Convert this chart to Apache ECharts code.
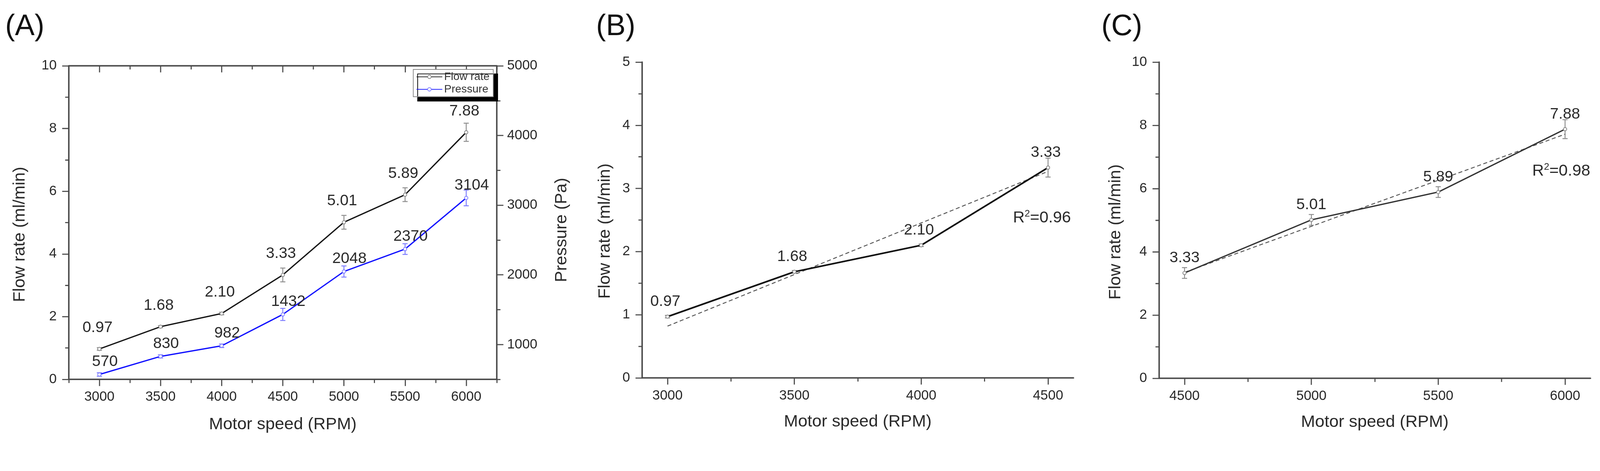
<!DOCTYPE html>
<html>
<head>
<meta charset="utf-8">
<script src="https://cdn.jsdelivr.net/npm/echarts@6/dist/echarts.min.js"></script>
<style>
html,body{margin:0;padding:0;background:#fff;overflow:hidden;}
#c{width:4348px;height:1207px;transform-origin:0 0;}
</style>
</head>
<body>
<div id="c"></div>
<script>
// ---------- data ----------
const rpmAll = [3000, 3500, 4000, 4500, 5000, 5500, 6000];
const flowRate = [0.97, 1.68, 2.10, 3.33, 5.01, 5.89, 7.88];
const flowErrA = [0.04, 0.03, 0.04, 0.22, 0.22, 0.22, 0.29];
const pressure = [570, 830, 982, 1432, 2048, 2370, 3104];
const pressureErr = [25, 22, 25, 87, 80, 77, 113];

const rpmB = [3000, 3500, 4000, 4500];
const flowB = [0.97, 1.68, 2.10, 3.33];
const flowErrB = [0.02, 0.02, 0.02, 0.15];
const fitRpmB = [3000, 4500];
const fitFlowB = [0.82, 3.27];

const rpmC = [4500, 5000, 5500, 6000];
const flowC = [3.33, 5.01, 5.89, 7.88];
const flowErrC = [0.17, 0.17, 0.17, 0.30];
const fitRpmC = [4500, 6000];
const fitFlowC = [3.35, 7.72];

// tick labels
const xTicksA = [3000, 3500, 4000, 4500, 5000, 5500, 6000];
const xMinorA = [2750, 3250, 3750, 4250, 4750, 5250, 5750, 6250];
const yTicksA = [0, 2, 4, 6, 8, 10];
const yMinorA = [1, 3, 5, 7, 9];
const pTicksA = [1000, 2000, 3000, 4000, 5000];
const pMinorA = [500, 1500, 2500, 3500, 4500];
const xTicksB = [3000, 3500, 4000, 4500];
const xMinorB = [3250, 3750, 4250];
const yTicksB = [0, 1, 2, 3, 4, 5];
const yMinorB = [0.5, 1.5, 2.5, 3.5, 4.5];
const xTicksC = [4500, 5000, 5500, 6000];
const xMinorC = [4750, 5250, 5750];
const yTicksC = [0, 2, 4, 6, 8, 10];
const yMinorC = [1, 3, 5, 7, 9];

// ---------- styling helpers ----------
const FONT = '"Liberation Sans", Arial, sans-serif';
const AXC = '#4a4a4a';
const TXT = '#2a2a2a';
const plain = v => String(v);

function xAxisDef(gi, min, max, ticks, o) {
  o = o || {};
  return {
    type: 'value', gridIndex: gi, min: min, max: max,
    position: o.position || 'bottom',
    axisLine: { show: o.line !== false, onZero: false, lineStyle: { color: AXC, width: 4 } },
    axisTick: { show: true, customValues: ticks, inside: !!o.inside, length: o.len || 18, lineStyle: { color: AXC, width: 3 } },
    axisLabel: { show: !!o.label, customValues: ticks, formatter: plain, margin: 30, fontSize: 37, color: TXT, fontFamily: FONT },
    splitLine: { show: false },
    name: o.name || '', nameLocation: 'middle', nameGap: o.nameGap || 98,
    nameTextStyle: { fontSize: 46, color: TXT, fontFamily: FONT }
  };
}
function yAxisDef(gi, min, max, ticks, o) {
  o = o || {};
  return {
    type: 'value', gridIndex: gi, min: min, max: max,
    position: o.position || 'left',
    axisLine: { show: o.line !== false, onZero: false, lineStyle: { color: AXC, width: 4 } },
    axisTick: { show: true, customValues: ticks, inside: false, length: o.len || 18, lineStyle: { color: AXC, width: 3 } },
    axisLabel: { show: !!o.label, customValues: ticks, formatter: plain, margin: o.margin || 33, fontSize: 37, color: TXT, fontFamily: FONT },
    splitLine: { show: false },
    name: o.name || '', nameLocation: 'middle', nameGap: o.nameGap || 100, nameRotate: 90,
    nameTextStyle: { fontSize: 46, color: TXT, fontFamily: FONT, padding: [0, o.namePad || 0, 0, 0] }
  };
}

function pairs(xs, ys) { return xs.map((x, i) => [x, ys[i]]); }

function lineSeries(name, xi, yi, xs, ys, color, width, lbl) {
  return {
    type: 'line', name: name, xAxisIndex: xi, yAxisIndex: yi,
    data: pairs(xs, ys), z: 3,
    symbol: 'circle', symbolSize: 9, showAllSymbol: true,
    itemStyle: { color: '#fff', borderColor: lbl.markerColor || '#808080', borderWidth: 2 },
    lineStyle: { color: color, width: width },
    emphasis: { disabled: true }, animation: false,
    label: {
      show: true, position: 'top', distance: lbl.distance, offset: lbl.offset || [0, 0],
      fontSize: 42, color: TXT, fontFamily: FONT,
      formatter: p => lbl.fmt(p.value[1])
    }
  };
}

function errSeries(xi, yi, xs, ys, es, color) {
  return {
    type: 'custom', xAxisIndex: xi, yAxisIndex: yi, silent: true, z: 2, animation: false,
    encode: { x: 0, y: [1, 2] },
    data: xs.map((x, i) => [x, ys[i] - es[i], ys[i] + es[i]]),
    renderItem: function (params, api) {
      const x = api.value(0);
      const p1 = api.coord([x, api.value(1)]);
      const p2 = api.coord([x, api.value(2)]);
      const w = 7, st = { stroke: color, lineWidth: 2.5 };
      return {
        type: 'group', children: [
          { type: 'line', shape: { x1: p1[0], y1: p1[1], x2: p2[0], y2: p2[1] }, style: st },
          { type: 'line', shape: { x1: p1[0] - w, y1: p1[1], x2: p1[0] + w, y2: p1[1] }, style: st },
          { type: 'line', shape: { x1: p2[0] - w, y1: p2[1], x2: p2[0] + w, y2: p2[1] }, style: st }
        ]
      };
    }
  };
}

function fitSeries(xi, yi, xs, ys, r2Coord, r2Text) {
  return {
    type: 'line', xAxisIndex: xi, yAxisIndex: yi, data: pairs(xs, ys), z: 2,
    symbol: 'none', lineStyle: { color: '#555', width: 2.5, type: [11, 7] },
    emphasis: { disabled: true }, animation: false, silent: true,
    markPoint: {
      symbol: 'circle', symbolSize: 0, silent: true,
      label: {
        show: true, position: 'inside', color: TXT, fontFamily: FONT,
        formatter: '{a|R}{s|2}{a|=' + r2Text + '}',
        rich: {
          a: { fontSize: 44, color: TXT, fontFamily: FONT },
          s: { fontSize: 26, color: TXT, fontFamily: FONT, padding: [0, 0, 22, 0] }
        }
      },
      data: [{ coord: r2Coord, value: 0 }]
    }
  };
}

const fmt2 = v => v.toFixed(2);
const fmt0 = v => String(Math.round(v));
const LETTER_FONT = '80px "Liberation Sans", Arial, sans-serif';

const option = {
  backgroundColor: '#fff',
  animation: false,
  grid: [
    { left: 187, top: 179, width: 1163, height: 853 },
    { left: 1745, top: 169, width: 1172, height: 859 },
    { left: 3150, top: 169, width: 1172, height: 860 }
  ],
  xAxis: [
    xAxisDef(0, 2750, 6250, xTicksA, { label: true, name: 'Motor speed (RPM)', nameGap: 100 }),
    xAxisDef(0, 2750, 6250, xMinorA, { line: false, len: 10 }),
    xAxisDef(0, 2750, 6250, xTicksA, { position: 'top', inside: true }),
    xAxisDef(0, 2750, 6250, xMinorA, { position: 'top', inside: true, line: false, len: 10 }),
    xAxisDef(1, 2900, 4600, xTicksB, { label: true, name: 'Motor speed (RPM)', nameGap: 97 }),
    xAxisDef(1, 2900, 4600, xMinorB, { line: false, len: 10 }),
    xAxisDef(2, 4400, 6100, xTicksC, { label: true, name: 'Motor speed (RPM)', nameGap: 97 }),
    xAxisDef(2, 4400, 6100, xMinorC, { line: false, len: 10 })
  ],
  yAxis: [
    yAxisDef(0, 0, 10, yTicksA, { label: true, name: 'Flow rate (ml/min)', nameGap: 110, namePad: 64 }),
    yAxisDef(0, 0, 10, yMinorA, { line: false, len: 10 }),
    yAxisDef(0, 500, 5000, pTicksA, { position: 'right', label: true, margin: 28, name: 'Pressure (Pa)', nameGap: 153, namePad: 40 }),
    yAxisDef(0, 500, 5000, pMinorA, { position: 'right', line: false, len: 10 }),
    yAxisDef(1, 0, 5, yTicksB, { label: true, name: 'Flow rate (ml/min)', nameGap: 78, namePad: 60 }),
    yAxisDef(1, 0, 5, yMinorB, { line: false, len: 10 }),
    yAxisDef(2, 0, 10, yTicksC, { label: true, name: 'Flow rate (ml/min)', nameGap: 95, namePad: 64 }),
    yAxisDef(2, 0, 10, yMinorC, { line: false, len: 10 })
  ],
  legend: {
    data: ['Flow rate', 'Pressure'],
    orient: 'vertical', left: 1123, top: 189,
    itemWidth: 70, itemHeight: 12, itemGap: 4,
    padding: [5, 10, 5, 8], selectedMode: false,
    backgroundColor: '#fff', borderColor: '#8a8a8a', borderWidth: 2, borderRadius: 0,
    shadowColor: '#000', shadowBlur: 0, shadowOffsetX: 12, shadowOffsetY: 12,
    textStyle: { fontSize: 30, color: '#333', fontFamily: FONT }
  },
  graphic: [
    { type: 'text', left: 14, top: 34, style: { text: '(A)', fill: '#111', font: LETTER_FONT } },
    { type: 'text', left: 1620, top: 34, style: { text: '(B)', fill: '#111', font: LETTER_FONT } },
    { type: 'text', left: 2993, top: 34, style: { text: '(C)', fill: '#111', font: LETTER_FONT } }
  ],
  series: [
    // Panel A
    errSeries(0, 0, rpmAll, flowRate, flowErrA, '#8c8c8c'),
    errSeries(0, 2, rpmAll, pressure, pressureErr, '#7a7aff'),
    lineSeries('Flow rate', 0, 0, rpmAll, flowRate, '#151515', 3.5, { distance: 31, offset: [-5, 0], fmt: fmt2 }),
    lineSeries('Pressure', 0, 2, rpmAll, pressure, '#1010ff', 3.5, { distance: 8, offset: [15, 0], fmt: fmt0, markerColor: '#7a7aff' }),
    // Panel B
    fitSeries(4, 4, fitRpmB, fitFlowB, [4476, 2.53], '0.96'),
    errSeries(4, 4, rpmB, flowB, flowErrB, '#8c8c8c'),
    lineSeries('Flow rate B', 4, 4, rpmB, flowB, '#111', 4.5, { distance: 14, offset: [-6, 0], fmt: fmt2 }),
    // Panel C
    fitSeries(6, 6, fitRpmC, fitFlowC, [5985, 6.55], '0.98'),
    errSeries(6, 6, rpmC, flowC, flowErrC, '#8c8c8c'),
    lineSeries('Flow rate C', 6, 6, rpmC, flowC, '#333', 3.5, { distance: 14, offset: [0, 0], fmt: fmt2 })
  ]
};

// Fit the 4348x1207 drawing into whatever viewport the page actually gets.
const dom = document.getElementById('c');
const vw = window.innerWidth || 4348, vh = window.innerHeight || 1207;
const s = Math.min(vw / 4348, vh / 1207);
dom.style.transform = 'scale(' + s + ')';
const dpr = (window.devicePixelRatio || 1) * s;
const chart = echarts.init(dom, null, { renderer: 'canvas', devicePixelRatio: dpr, width: 4348, height: 1207 });
chart.setOption(option);
</script>
</body>
</html>
